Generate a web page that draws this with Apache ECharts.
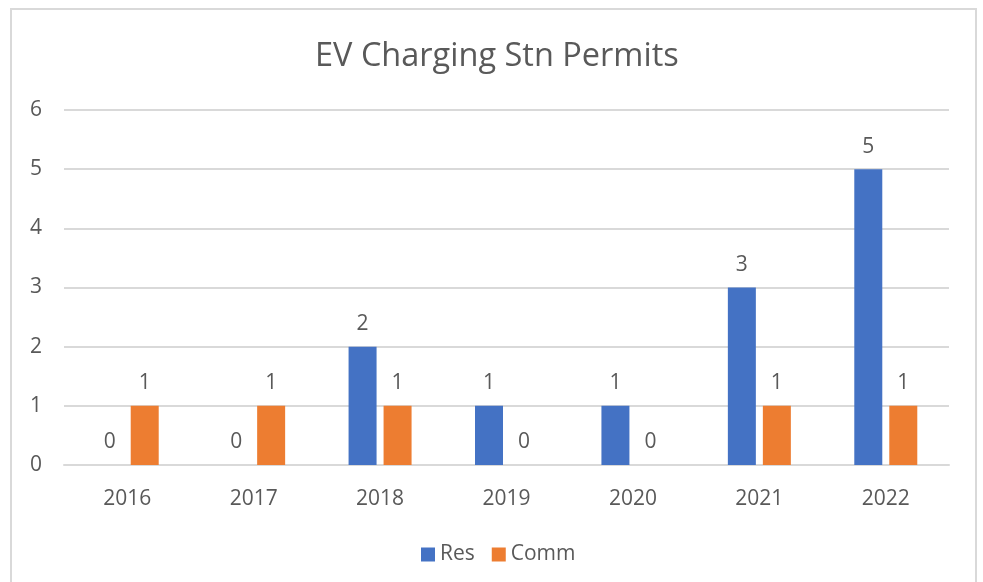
<!DOCTYPE html>
<html lang="en">
  <head>
    <meta charset="UTF-8" />
    <title>EV Charging Stn Permits</title>
    <script src="https://cdn.jsdelivr.net/npm/echarts@6/dist/echarts.min.js"></script>
    <style>
      body { margin: 0; padding: 0; background: #fff; }
      #main { width: 983px; height: 582px; }
    </style>
  </head>
  <body>
    <div id="main"></div>
    <script>
      const years = ["2016", "2017", "2018", "2019", "2020", "2021", "2022"];
      const res = [0, 0, 2, 1, 1, 3, 5];
      const comm = [1, 1, 1, 0, 0, 1, 1];

      const font = "'Open Sans', 'Noto Sans', sans-serif";
      const textColor = "#595959";

      const labelOpt = {
        show: true,
        position: "top",
        distance: 12,
        fontSize: 21,
        fontFamily: font,
        color: textColor,
      };

      const chart = echarts.init(document.getElementById("main"));
      chart.setOption({
        animation: false,
        title: {
          text: "EV Charging Stn Permits",
          left: 310,
          top: 35,
          textStyle: { fontSize: 32.5, fontWeight: "normal", fontFamily: font, color: textColor },
        },
        graphic: [
          {
            type: "rect",
            shape: { x: 11, y: 9, width: 965, height: 590 },
            style: { fill: "none", stroke: "#d9d9d9", lineWidth: 2 },
            silent: true,
          },
        ],
        legend: {
          top: 539,
          left: 416,
          itemWidth: 14,
          itemHeight: 14,
          itemGap: 17,
          icon: "rect",
          textStyle: { fontSize: 21, fontFamily: font, color: textColor },
          data: ["Res", "Comm"],
        },
        grid: { left: 64, right: 34, top: 110, bottom: 117 },
        xAxis: {
          type: "category",
          data: years,
          axisLine: { lineStyle: { color: "#d9d9d9", width: 2 } },
          axisTick: { show: false },
          axisLabel: { fontSize: 21, fontFamily: font, color: textColor, margin: 24 },
        },
        yAxis: {
          type: "value",
          min: 0,
          max: 6,
          interval: 1,
          axisLine: { show: false },
          axisTick: { show: false },
          splitLine: { lineStyle: { color: "#d9d9d9", width: 2 } },
          axisLabel: { fontSize: 21, fontFamily: font, color: textColor, margin: 22 },
        },
        series: [
          {
            name: "Res",
            type: "bar",
            data: res,
            barWidth: 28,
            barGap: "25%",
            itemStyle: { color: "#4472C4" },
            label: labelOpt,
          },
          {
            name: "Comm",
            type: "bar",
            data: comm,
            barWidth: 28,
            itemStyle: { color: "#ED7D31" },
            label: labelOpt,
          },
        ],
      });
    </script>
  </body>
</html>
